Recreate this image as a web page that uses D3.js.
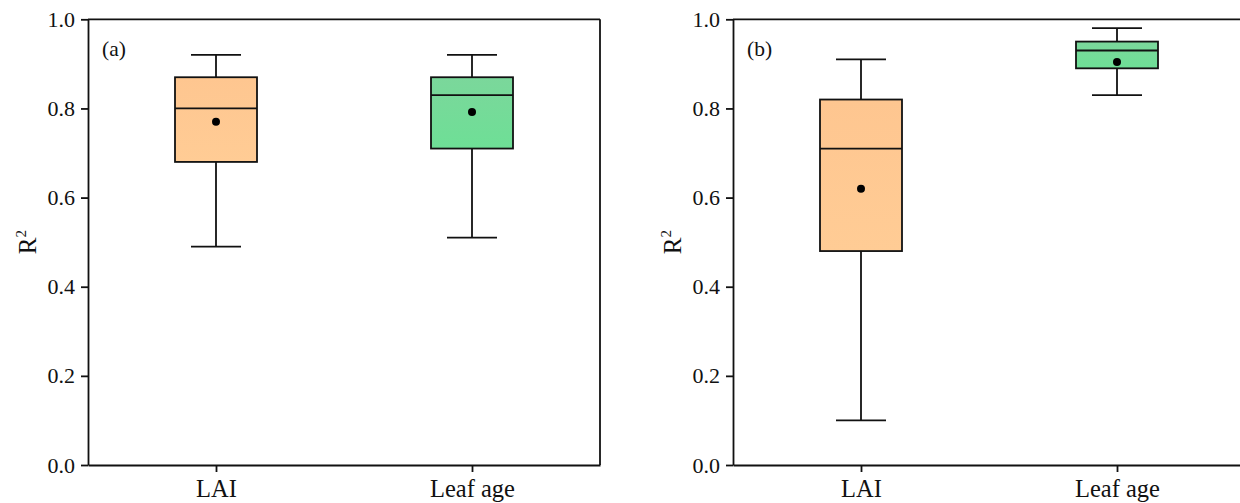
<!DOCTYPE html>
<html>
<head>
<meta charset="utf-8">
<script src="https://cdn.jsdelivr.net/npm/d3@7"></script>
<style>
  html, body { margin: 0; padding: 0; background: #fff; }
  svg { display: block; }
</style>
</head>
<body>
<svg id="chart" width="1240" height="503"></svg>
<script>
// ---- data ----
const categories = ["LAI", "Leaf age"];
const panelLabels = ["(a)", "(b)"];
const yTicks = [0.0, 0.2, 0.4, 0.6, 0.8, 1.0];

// Panel (a)
const lowA    = [0.49, 0.51];
const q1A     = [0.68, 0.71];
const medianA = [0.80, 0.83];
const q3A     = [0.87, 0.87];
const highA   = [0.92, 0.92];
const meanA   = [0.77, 0.792];

// Panel (b)
const lowB    = [0.10, 0.83];
const q1B     = [0.48, 0.89];
const medianB = [0.71, 0.93];
const q3B     = [0.82, 0.95];
const highB   = [0.91, 0.98];
const meanB   = [0.62, 0.904];

const fills = ["url(#gOrange)", "url(#gGreen)"];

// ---- drawing ----
(function () {
const svg = d3.select("#chart");
const font = "'Liberation Serif', 'Times New Roman', serif";

const defs = svg.append("defs");
function grad(id, c1, c2) {
  const g = defs.append("linearGradient").attr("id", id)
    .attr("x1", 0).attr("y1", 0).attr("x2", 0).attr("y2", 1);
  g.append("stop").attr("offset", "0%").attr("stop-color", c1);
  g.append("stop").attr("offset", "100%").attr("stop-color", c2);
}
grad("gOrange", "#FEC690", "#FFCC95");
grad("gGreen", "#7BD79B", "#6EDF96");

const yTop = 19.3, yBottom = 465, panelW = 512;
const y = d3.scaleLinear().domain([0, 1]).range([yBottom, yTop]);

const panels = [
  { x0: 88,  label: panelLabels[0], low: lowA, q1: q1A, med: medianA, q3: q3A, high: highA, mean: meanA },
  { x0: 733, label: panelLabels[1], low: lowB, q1: q1B, med: medianB, q3: q3B, high: highB, mean: meanB }
];

const boxW = 82, capW = 50, sw = 1.8;

panels.forEach(p => {
  const x = d3.scalePoint().domain(categories).range([p.x0, p.x0 + panelW]).padding(0.5);
  const g = svg.append("g");

  categories.forEach((c, i) => {
    const cx = x(c);
    g.append("line").attr("x1", cx).attr("x2", cx).attr("y1", y(p.q3[i])).attr("y2", y(p.high[i]))
      .attr("stroke", "#111").attr("stroke-width", sw);
    g.append("line").attr("x1", cx).attr("x2", cx).attr("y1", y(p.q1[i])).attr("y2", y(p.low[i]))
      .attr("stroke", "#111").attr("stroke-width", sw);
    g.append("line").attr("x1", cx - capW / 2).attr("x2", cx + capW / 2).attr("y1", y(p.high[i])).attr("y2", y(p.high[i]))
      .attr("stroke", "#111").attr("stroke-width", sw);
    g.append("line").attr("x1", cx - capW / 2).attr("x2", cx + capW / 2).attr("y1", y(p.low[i])).attr("y2", y(p.low[i]))
      .attr("stroke", "#111").attr("stroke-width", sw);
    g.append("rect").attr("x", cx - boxW / 2).attr("y", y(p.q3[i]))
      .attr("width", boxW).attr("height", y(p.q1[i]) - y(p.q3[i]))
      .attr("fill", fills[i]).attr("stroke", "#111").attr("stroke-width", sw);
    g.append("line").attr("x1", cx - boxW / 2).attr("x2", cx + boxW / 2).attr("y1", y(p.med[i])).attr("y2", y(p.med[i]))
      .attr("stroke", "#111").attr("stroke-width", sw);
    g.append("circle").attr("cx", cx).attr("cy", y(p.mean[i])).attr("r", 4).attr("fill", "#000");
  });

  g.append("line").attr("x1", p.x0).attr("x2", p.x0 + panelW).attr("y1", yTop).attr("y2", yTop)
    .attr("stroke", "#111").attr("stroke-width", sw);
  g.append("line").attr("x1", p.x0 + panelW).attr("x2", p.x0 + panelW).attr("y1", yTop).attr("y2", yBottom)
    .attr("stroke", "#111").attr("stroke-width", sw);

  const ya = g.append("g").attr("transform", `translate(${p.x0},0)`)
    .call(d3.axisLeft(y).tickValues(yTicks).tickFormat(d3.format(".1f")).tickSize(7).tickPadding(6).tickSizeOuter(0));
  ya.select(".domain").attr("stroke", "#111").attr("stroke-width", sw);
  ya.selectAll(".tick line").attr("stroke", "#111").attr("stroke-width", sw);
  ya.selectAll(".tick text").attr("font-family", font).attr("font-size", 22).attr("fill", "#111");

  const xa = g.append("g").attr("transform", `translate(0,${yBottom})`)
    .call(d3.axisBottom(x).tickSize(7).tickPadding(8).tickSizeOuter(0));
  xa.select(".domain").attr("stroke", "#111").attr("stroke-width", sw);
  xa.selectAll(".tick line").attr("stroke", "#111").attr("stroke-width", sw);
  xa.selectAll(".tick text").attr("font-family", font).attr("font-size", 24.5).attr("fill", "#111");

  g.append("text").attr("x", p.x0 + 14).attr("y", 56).attr("font-family", font).attr("font-size", 21.5)
    .attr("fill", "#111").text(p.label);

  const t = g.append("text")
    .attr("transform", `translate(${p.x0 - 52},${(yTop + yBottom) / 2}) rotate(-90)`)
    .attr("text-anchor", "middle").attr("font-family", font).attr("font-size", 25).attr("fill", "#111");
  t.append("tspan").text("R");
  t.append("tspan").attr("font-size", 15).attr("dy", -10).text("2");
});
})();
</script>
</body>
</html>
